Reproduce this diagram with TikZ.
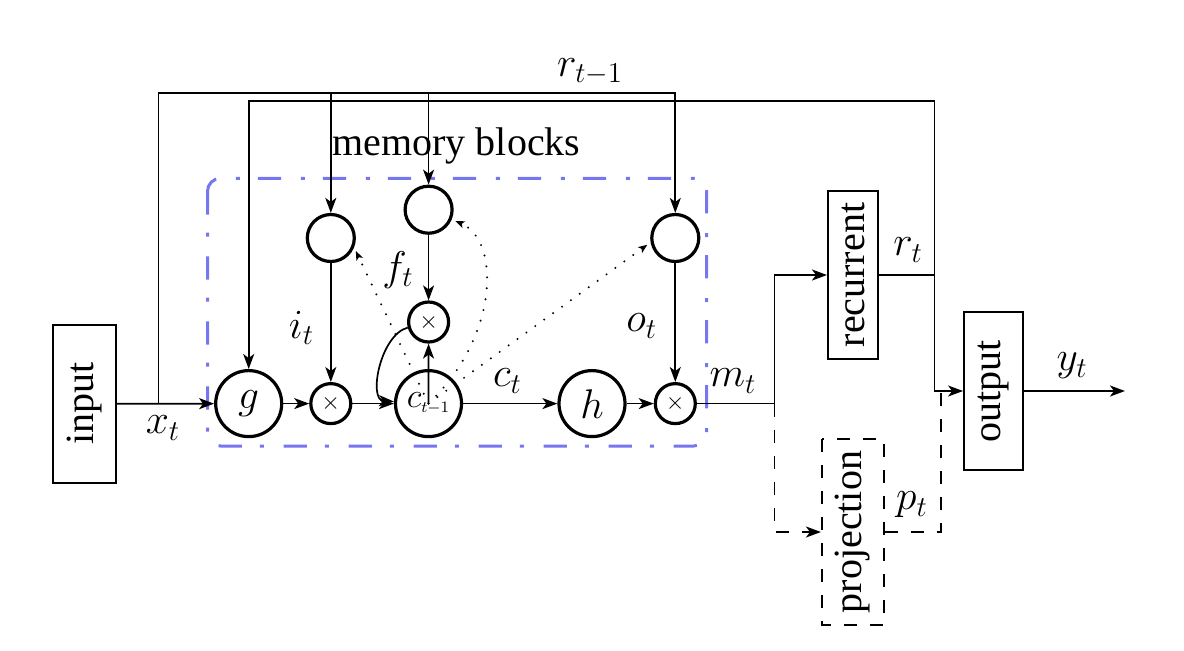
\documentclass[tikz,border=0pt]{standalone}
\usepackage[no-math]{fontspec}
\setmainfont{Liberation Serif}
\usetikzlibrary{arrows.meta}
\definecolor{mbblue}{RGB}{118,118,240}
\begin{document}
\begin{tikzpicture}[x=0.5pt,y=-0.5pt,
  every node/.style={font=\fontsize{20}{24}\selectfont},
  conn/.style={line width=0.85pt},
  arr/.style={conn,-{Stealth[length=7.5pt,width=5.5pt,inset=2pt]}},
  bigc/.style={circle,draw,line width=1.6pt,minimum size=33pt,inner sep=0pt},
  gate/.style={circle,draw,line width=1.6pt,minimum size=23.5pt,inner sep=0pt},
  mult/.style={circle,draw,line width=1.6pt,minimum size=20pt,inner sep=0pt,font=\fontsize{12}{14}\selectfont},
  blk/.style={draw,line width=1pt,rotate=90,inner sep=0pt},
  dsh/.style={line width=0.85pt,dash pattern=on 6.5pt off 6.5pt},
  dotline/.style={line width=1.1pt,dash pattern=on 0pt off 5.5pt,line cap=round,-{Stealth[length=4.5pt,width=3.5pt,inset=1pt]},shorten >=2pt},
  lbl/.style={inner sep=0pt}
]
\useasboundingbox (0,0) rectangle (1184,650);

% memory block frame
\draw[mbblue,line width=1.5pt,dash pattern=on 11.7pt off 9pt on 2pt off 9.8pt,rounded corners=6.5pt]
  (207.5,178.3) rectangle (706.7,446);

% boxes
\node[blk,minimum width=78.9pt,minimum height=31.3pt] (in) at (84.7,403.8) {input};
\node[blk,minimum width=84.3pt,minimum height=25pt] (rec) at (853,275) {recurrent};
\node[blk,minimum width=79pt,minimum height=29.3pt] (out) at (993.4,391) {output};
\node[blk,dsh,minimum width=93pt,minimum height=31pt] (proj) at (852.8,532) {projection};

% circles
\node[bigc] (g) at (248.7,403.6) {$g$};
\node[mult] (ix) at (330.8,403.6) {$\times$};
\node[bigc] (c) at (428.5,403.6) {\fontsize{16}{18}\selectfont$c_{\scriptscriptstyle t-1}$};
\node[bigc] (h) at (592,403.6) {$h$};
\node[mult] (ox) at (675.3,403.6) {$\times$};
\node[gate] (ig) at (330.8,238) {};
\node[gate] (fg) at (428.6,209.7) {};
\node[gate] (og) at (675.3,238) {};
\node[mult] (fx) at (428.6,322) {$\times$};

% junction coordinates
\coordinate (xt) at (158.5,403.6);
\coordinate (t1) at (158.5,93.3);
\coordinate (t2) at (934.5,100.7);
\coordinate (rj) at (934.5,275);
\coordinate (mj) at (774.5,403.6);
\coordinate (pj) at (941,532);
\coordinate (yend) at (1125,391);

% connectors
\draw[arr] (in) -- (g);
\draw[arr] (xt) -- (t1) -| (og);
\draw[arr] (ig |- t1) -- (ig);
\draw[arr] (fg |- t1) -- (fg);
\draw[arr] (rj) -- (t2) -| (g);
\draw[conn] (rec) -- (rj);
\draw[arr] (rj) |- (out);
\draw[arr] (g) -- (ix);
\draw[arr] (ix) -- (c);
\draw[arr] (c) -- (h);
\draw[arr] (h) -- (ox);
\draw[conn] (ox) -- (mj);
\draw[arr] (mj) |- (rec);
\draw[arr,dsh] (mj) |- (proj);
\draw[dsh] (proj) -- (pj) -- (pj |- out);
\draw[arr] (ig) -- (ix);
\draw[arr] (fg) -- (fx);
\draw[arr] (og) -- (ox);
\draw[arr] (c.center) -- (fx);
\draw[arr] (fx) .. controls (380,335) and (368,400) .. (c);
\draw[arr] (out) -- (yend);

% peephole connections
\draw[dotline] (c.center) -- (ig.-22);
\draw[dotline] (c.center) .. controls (500,335) and (500,240) .. (fg);
\draw[dotline] (c.center) -- (og.190);

% labels
\node[lbl] (lrt1) at (590,72) {$r_{t-1}$};
\node[lbl,anchor=base] (lmb) at (456.5,155) {memory blocks};
\node[lbl] (lxt) at (163,428) {$x_t$};
\node[lbl] (lit) at (301.5,328) {$i_t$};
\node[lbl] (lft) at (398,270) {$f_t$};
\node[lbl] (lct) at (507.5,381) {$c_t$};
\node[lbl] (lot) at (641.7,326) {$o_t$};
\node[lbl] (lmt) at (733,381) {$m_t$};
\node[lbl] (lrt) at (908,250) {$r_t$};
\node[lbl] (lyt) at (1072,366) {$y_t$};
\node[lbl] (lpt) at (912,505) {$p_t$};
\end{tikzpicture}
\end{document}
